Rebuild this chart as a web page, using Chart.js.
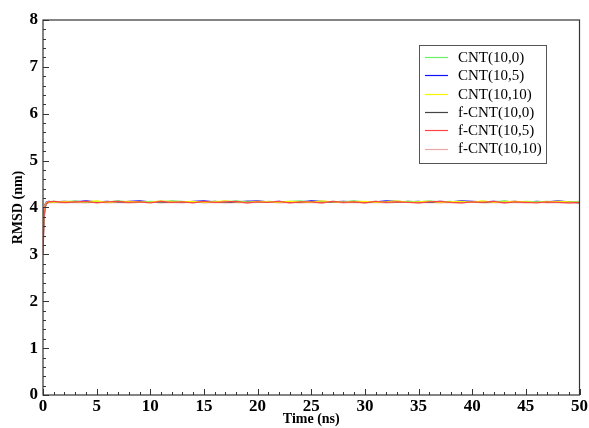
<!DOCTYPE html>
<html>
<head>
<meta charset="utf-8">
<script src="https://cdn.jsdelivr.net/npm/chart.js@4"></script>
<style>
  html, body { margin: 0; padding: 0; background: #fff; }
  #wrap { width: 589px; height: 428px; }
</style>
</head>
<body>
<div id="wrap"><canvas id="chart" width="589" height="428"></canvas></div>
<script>
// time points (ns)
var time = [0, 0.1, 0.2, 0.3, 0.5,
  1, 2, 3, 4, 5, 6, 7, 8, 9, 10,
  11, 12, 13, 14, 15, 16, 17, 18, 19, 20,
  21, 22, 23, 24, 25, 26, 27, 28, 29, 30,
  31, 32, 33, 34, 35, 36, 37, 38, 39, 40,
  41, 42, 43, 44, 45, 46, 47, 48, 49, 50];

var seriesNames = ['CNT(10,0)', 'CNT(10,5)', 'CNT(10,10)', 'f-CNT(10,0)', 'f-CNT(10,5)', 'f-CNT(10,10)'];
var seriesColors = ['#6cf06c', '#1010ff', '#f5f500', '#444444', '#ff4444', '#e8a8a8'];

var cnt100 = [3.5, 3.9, 4.05, 4.10, 4.12,
  4.13, 4.12, 4.14, 4.11, 4.13, 4.12, 4.14, 4.12, 4.11, 4.13,
  4.12, 4.14, 4.13, 4.11, 4.12, 4.13, 4.12, 4.14, 4.12, 4.11,
  4.13, 4.12, 4.13, 4.14, 4.12, 4.11, 4.13, 4.12, 4.14, 4.12,
  4.13, 4.11, 4.12, 4.13, 4.12, 4.14, 4.12, 4.13, 4.11, 4.12,
  4.13, 4.12, 4.14, 4.11, 4.13, 4.12, 4.13, 4.12, 4.11, 4.13];
var cnt105 = [3.6, 3.95, 4.07, 4.11, 4.13,
  4.12, 4.13, 4.12, 4.14, 4.12, 4.13, 4.11, 4.13, 4.14, 4.12,
  4.13, 4.12, 4.11, 4.13, 4.14, 4.12, 4.13, 4.12, 4.13, 4.14,
  4.12, 4.13, 4.11, 4.12, 4.14, 4.13, 4.12, 4.13, 4.12, 4.11,
  4.12, 4.14, 4.13, 4.12, 4.13, 4.11, 4.13, 4.12, 4.14, 4.13,
  4.12, 4.13, 4.12, 4.13, 4.11, 4.13, 4.12, 4.14, 4.12, 4.12];
var cnt1010 = [3.4, 3.85, 4.03, 4.09, 4.12,
  4.11, 4.13, 4.12, 4.12, 4.14, 4.11, 4.12, 4.13, 4.12, 4.11,
  4.14, 4.12, 4.12, 4.13, 4.11, 4.12, 4.14, 4.12, 4.11, 4.13,
  4.12, 4.11, 4.13, 4.12, 4.11, 4.14, 4.12, 4.11, 4.12, 4.13,
  4.11, 4.12, 4.14, 4.11, 4.12, 4.13, 4.11, 4.12, 4.13, 4.11,
  4.14, 4.11, 4.12, 4.13, 4.12, 4.11, 4.12, 4.13, 4.12, 4.11];
var fcnt100 = [3.2, 3.8, 4.02, 4.09, 4.11,
  4.12, 4.11, 4.13, 4.12, 4.11, 4.12, 4.13, 4.11, 4.12, 4.12,
  4.11, 4.13, 4.12, 4.12, 4.11, 4.13, 4.11, 4.12, 4.13, 4.12,
  4.11, 4.12, 4.12, 4.11, 4.13, 4.12, 4.11, 4.12, 4.13, 4.11,
  4.12, 4.12, 4.11, 4.13, 4.12, 4.11, 4.12, 4.12, 4.13, 4.11,
  4.12, 4.11, 4.13, 4.12, 4.12, 4.11, 4.12, 4.11, 4.12, 4.10];
var fcnt105 = [3.0, 3.75, 4.0, 4.08, 4.12,
  4.13, 4.11, 4.12, 4.13, 4.10, 4.12, 4.13, 4.11, 4.12, 4.10,
  4.13, 4.11, 4.12, 4.10, 4.13, 4.11, 4.12, 4.13, 4.10, 4.12,
  4.11, 4.13, 4.10, 4.12, 4.12, 4.10, 4.13, 4.11, 4.12, 4.10,
  4.13, 4.11, 4.12, 4.11, 4.10, 4.12, 4.13, 4.11, 4.10, 4.12,
  4.11, 4.13, 4.10, 4.12, 4.11, 4.10, 4.12, 4.11, 4.10, 4.11];
var fcnt1010 = [3.3, 3.8, 4.0, 4.07, 4.10,
  4.11, 4.10, 4.11, 4.10, 4.12, 4.10, 4.11, 4.10, 4.11, 4.12,
  4.10, 4.11, 4.10, 4.12, 4.10, 4.11, 4.10, 4.11, 4.10, 4.11,
  4.12, 4.10, 4.11, 4.10, 4.11, 4.10, 4.12, 4.10, 4.11, 4.10,
  4.11, 4.10, 4.11, 4.12, 4.10, 4.11, 4.10, 4.11, 4.10, 4.12,
  4.10, 4.11, 4.10, 4.11, 4.10, 4.12, 4.10, 4.11, 4.10, 4.10];

var allSeries = [cnt100, cnt105, cnt1010, fcnt100, fcnt105, fcnt1010];
// draw order: red on top
var drawOrder = [3, 4, 2, 5, 1, 6];

var xTicks = [0, 5, 10, 15, 20, 25, 30, 35, 40, 45, 50];
var yTicks = [0, 1, 2, 3, 4, 5, 6, 7, 8];

var serif = "'Liberation Serif', 'Times New Roman', serif";

function makeData(vals) {
  var pts = [];
  for (var i = 0; i < time.length; i++) {
    pts.push({ x: time[i], y: vals[i] });
  }
  return pts;
}

var datasets = [];
for (var s = 0; s < allSeries.length; s++) {
  datasets.push({
    label: seriesNames[s],
    data: makeData(allSeries[s]),
    borderColor: seriesColors[s],
    backgroundColor: seriesColors[s],
    borderWidth: 1.3,
    pointRadius: 0,
    tension: 0,
    order: drawOrder[s]
  });
}

// frame, inward ticks and in-plot legend
var framePlugin = {
  id: 'frame',
  afterDraw: function(c) {
    var ctx = c.ctx;
    var a = c.chartArea;
    var xs = c.scales.x, ys = c.scales.y;
    ctx.save();
    ctx.strokeStyle = '#333';
    ctx.lineWidth = 1.2;
    ctx.strokeRect(a.left, a.top, a.right - a.left, a.bottom - a.top);

    ctx.lineWidth = 1;
    ctx.beginPath();
    for (var v = 0; v <= 50; v += 1) {
      var px = Math.round(xs.getPixelForValue(v)) + 0.5;
      var len = (v % 5 == 0) ? 6 : 3;
      ctx.moveTo(px, a.bottom); ctx.lineTo(px, a.bottom - len);
    }
    for (var w = 0; w <= 8.001; w += 0.2) {
      var py = Math.round(ys.getPixelForValue(w)) + 0.5;
      var major = Math.abs(w - Math.round(w)) < 0.01;
      var l2 = major ? 6 : 3;
      ctx.moveTo(a.left, py); ctx.lineTo(a.left + l2, py);
    }
    ctx.stroke();

    // legend box
    var bx = 419, by = 45, bw = 127, bh = 118;
    ctx.fillStyle = '#fff';
    ctx.fillRect(bx, by, bw, bh);
    ctx.strokeStyle = '#555';
    ctx.lineWidth = 1;
    ctx.strokeRect(bx + 0.5, by + 0.5, bw, bh);
    ctx.font = '15px ' + serif;
    ctx.textBaseline = 'middle';
    ctx.textAlign = 'left';
    for (var i = 0; i < seriesNames.length; i++) {
      var ry = by + 12 + i * 18.3;
      ctx.strokeStyle = seriesColors[i];
      ctx.lineWidth = 1.2;
      ctx.beginPath();
      ctx.moveTo(bx + 6, Math.round(ry) + 0.5);
      ctx.lineTo(bx + 29, Math.round(ry) + 0.5);
      ctx.stroke();
      ctx.fillStyle = '#000';
      ctx.fillText(seriesNames[i], bx + 39, ry + 1);
    }
    ctx.restore();
  }
};

var config = {
  type: 'line',
  data: { datasets: datasets },
  options: {
    responsive: false,
    animation: false,
    events: [],
    layout: { padding: { top: 20, right: 6, left: 0, bottom: 0 } },
    plugins: {
      legend: { display: false },
      tooltip: { enabled: false }
    },
    scales: {
      x: {
        type: 'linear',
        min: 0, max: 50,
        afterBuildTicks: function(sc) { sc.ticks = xTicks.map(function(v) { return { value: v }; }); },
        afterFit: function(sc) { sc.height = 33; },
        grid: { display: false, drawTicks: false, tickLength: 0 },
        border: { display: false },
        ticks: { color: '#000', padding: 1, maxRotation: 0, font: { family: serif, size: 17, weight: 'bold' } },
        title: { display: true, text: 'Time (ns)', color: '#000', padding: { top: 0, bottom: 0 }, font: { family: serif, size: 14, weight: 'bold' } }
      },
      y: {
        type: 'linear',
        min: 0, max: 8,
        afterBuildTicks: function(sc) { sc.ticks = yTicks.map(function(v) { return { value: v }; }); },
        afterFit: function(sc) { sc.width = 43; },
        grid: { display: false, drawTicks: false, tickLength: 0 },
        border: { display: false },
        ticks: { color: '#000', padding: 5, font: { family: serif, size: 17, weight: 'bold' } },
        title: { display: true, text: 'RMSD (nm)', color: '#000', padding: { top: 10, bottom: 0 }, font: { family: serif, size: 14, weight: 'bold' } }
      }
    }
  },
  plugins: [framePlugin]
};

var chart = new Chart(document.getElementById('chart'), config);
</script>
</body>
</html>
